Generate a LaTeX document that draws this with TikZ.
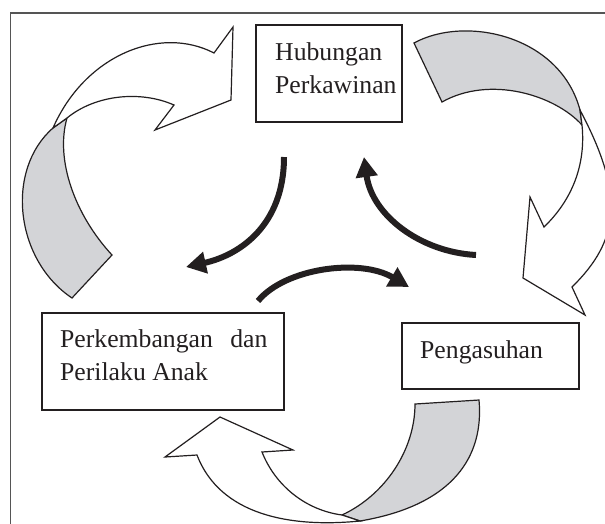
\documentclass[tikz,border=0pt]{standalone}
\usepackage{fontspec}
\setmainfont{Liberation Serif}
\usetikzlibrary{arrows.meta}
\definecolor{ink}{RGB}{35,31,32}
\definecolor{shade}{RGB}{211,212,215}
\definecolor{framec}{RGB}{85,85,85}
\tikzset{
  box/.style={draw=ink, line width=1.3pt, rectangle, inner sep=0pt},
  txt/.style={text=ink, font=\fontsize{25.7}{31}\selectfont, inner sep=0pt, anchor=base west},
  band/.style={draw=ink, line width=1.2pt, line join=miter},
  greyband/.style={band, fill=shade},
  whiteband/.style={band, fill=white},
  bigarrow/.style={draw=ink, line width=6pt, -{Triangle[length=20pt,width=21pt]}}
}
\begin{document}
\begin{tikzpicture}[x=1pt,y=-1pt]
\useasboundingbox (0,0) rectangle (605,523);
\begin{scope}
\clip (0,0) rectangle (605,523);
\draw[framec, line width=1.4pt] (10.5,13) rectangle (640,560);

% block arrow A (left, pointing right)
\path[greyband] (53,128) .. controls (5,170) and (15,260) .. (72,298)
  -- (112,255) .. controls (75,215) and (55,160) .. (67,118) -- cycle;
\path[whiteband] (53,128) .. controls (85,55) and (160,25) .. (214,53)
  -- (233,27) -- (231,100) -- (155,130) -- (174,105)
  .. controls (140,90) and (95,95) .. (67,118) -- cycle;

% block arrow B (right, pointing down)
\path[greyband] (414,43) .. controls (465,15) and (560,35) .. (580,110)
  -- (582,125) .. controls (555,95) and (490,75) .. (442,102) -- cycle;
\path[whiteband] (580,110) .. controls (625,195) and (620,240) .. (572,287)
  -- (585,315) -- (523,278) -- (530,197) -- (544,227)
  .. controls (572,200) and (586,165) .. (582,125) -- cycle;

% block arrow C (bottom, pointing up-left)
\path[greyband] (415,404) -- (479,400) .. controls (484,455) and (455,505) .. (360,521)
  -- (342,515) .. controls (385,495) and (415,450) .. (415,404) -- cycle;
\path[whiteband] (360,521) .. controls (290,528) and (220,515) .. (197,455)
  -- (165,457) -- (220,417) -- (293,450) -- (262,452)
  .. controls (275,485) and (305,510) .. (342,515) -- cycle;
\end{scope}

% boxes
\node[box, minimum width=146pt, minimum height=97pt] (hub) at (329,73.5) {};
\node[box, minimum width=242pt, minimum height=97pt] (perk) at (163,361.5) {};
\node[box, minimum width=177pt, minimum height=66pt] (peng) at (490.5,356) {};

% texts
\node[txt] (hub1) at (275,60) {Hubungan};
\node[txt] (hub2) at (275,93) {Perkawinan};
\node[txt] (perk1) at (60,347) {Perkembangan\hspace{11pt} dan};
\node[txt] (perk2) at (60,380) {Perilaku Anak};
\node[txt] (peng1) at (420,358) {Pengasuhan};

% black curved arrows
\coordinate (a1s) at (284,157);
\coordinate (a1e) at (186,267);
\coordinate (a2s) at (476,255);
\coordinate (a2e) at (364,157);
\coordinate (a3s) at (258,301);
\coordinate (a3e) at (409,287);
\draw[bigarrow] (a1s) .. controls (284,225) and (240,255) .. (a1e);
\draw[bigarrow] (a2s) .. controls (420,252) and (372,215) .. (a2e);
\draw[bigarrow] (a3s) .. controls (285,268) and (360,258) .. (a3e);
\end{tikzpicture}
\end{document}
